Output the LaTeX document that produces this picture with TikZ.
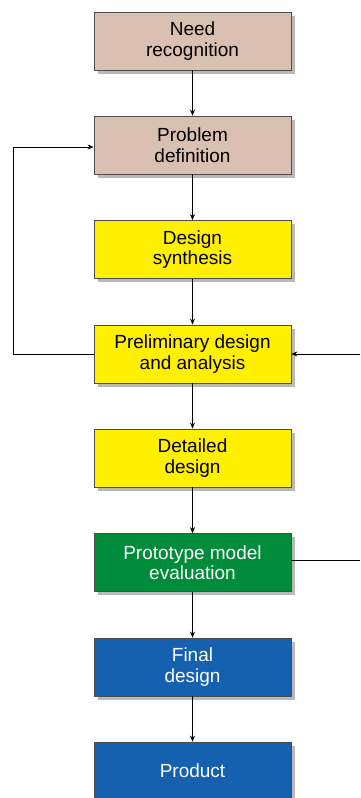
\documentclass[tikz,border=0pt]{standalone}
\usepackage{fontspec}
\setmainfont{Liberation Sans}
\usetikzlibrary{shadows,arrows.meta}
\definecolor{tanbox}{RGB}{218,192,178}
\definecolor{yelbox}{RGB}{255,240,0}
\definecolor{grnbox}{RGB}{0,140,58}
\definecolor{blubox}{RGB}{22,96,176}
\tikzset{
  x=1pt,y=-1pt,
  box/.style={draw=black!70,line width=0.8pt,minimum width=197pt,minimum height=58pt,
    align=center,font=\fontsize{19}{20.5}\selectfont,
    drop shadow={shadow xshift=3.5pt,shadow yshift=-3.5pt,opacity=0.5,fill=black!55}},
  tanb/.style={box,fill=tanbox},
  yelb/.style={box,fill=yelbox},
  grnb/.style={box,fill=grnbox,text=white},
  blub/.style={box,fill=blubox,text=white},
  conn/.style={draw=black,line width=0.7pt,-{Stealth[length=6pt,width=5pt]}},
  line/.style={draw=black,line width=0.7pt}
}
\begin{document}
\begin{tikzpicture}
\useasboundingbox (0,0) rectangle (360,798);
\node[tanb] (n1) at (192.5,41) {Need\\recognition};
\node[tanb] (n2) at (192.5,145) {Problem\\definition};
\node[yelb] (n3) at (192.5,249.5) {Design\\synthesis};
\node[yelb] (n4) at (192.5,354) {Preliminary design\\and analysis};
\node[yelb] (n5) at (192.5,458) {Detailed\\design};
\node[grnb] (n6) at (192.5,562.5) {Prototype model\\evaluation};
\node[blub] (n7) at (192.5,667) {Final\\design};
\node[blub] (n8) at (192.5,771) {Product};
\draw[conn] (n1) -- (n2);
\draw[conn] (n2) -- (n3);
\draw[conn] (n3) -- (n4);
\draw[conn] (n4) -- (n5);
\draw[conn] (n5) -- (n6);
\draw[conn] (n6) -- (n7);
\draw[conn] (n7) -- (n8);
\coordinate (lb) at (13,354);
\coordinate (lt) at (13,147);
\draw[conn] (n4.west) -- (lb) -- (lt) -- (n2.west |- lt);
\coordinate (r1) at (360,354);
\coordinate (r2) at (360,560);
\draw[conn] (r1) -- (n4.east);
\draw[line] (n6.east |- r2) -- (r2);
\end{tikzpicture}
\end{document}
